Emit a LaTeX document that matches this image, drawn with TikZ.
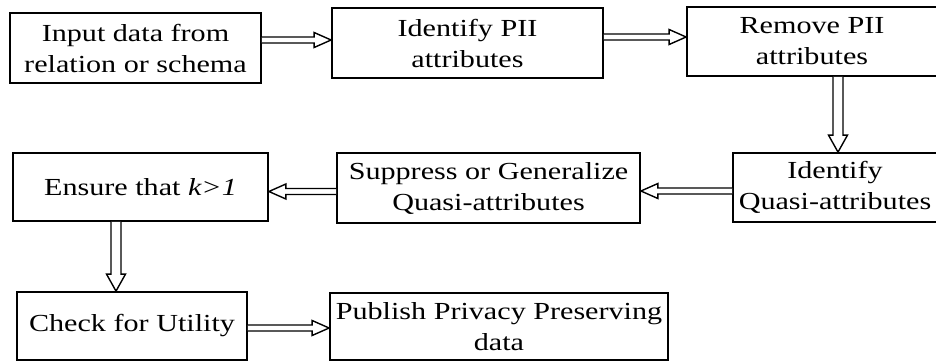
\documentclass[tikz,border=0pt]{standalone}
\usepackage{fontspec}
\setmainfont[FakeStretch=1.23]{Liberation Serif}
\usetikzlibrary{calc}
\newcommand\harr[2]{%
\draw[conn] let \p1=#1, \p2=#2, \n1={sign(\x2-\x1)} in
 (\x1,{\y1+3pt}) -- ({\x2-(\n1)*17pt},{\y1+3pt}) -- ({\x2-(\n1)*17pt},{\y1+7.5pt}) -- (\x2,\y1)
 -- ({\x2-(\n1)*17pt},{\y1-7.5pt}) -- ({\x2-(\n1)*17pt},{\y1-3pt}) -- (\x1,{\y1-3pt});}
\newcommand\varr[2]{%
\draw[conn] let \p1=#1, \p2=#2, \n1={sign(\y2-\y1)} in
 ({\x1+5pt},\y1) -- ({\x1+5pt},{\y2-(\n1)*17pt}) -- ({\x1+9.5pt},{\y2-(\n1)*17pt}) -- (\x1,\y2)
 -- ({\x1-9.5pt},{\y2-(\n1)*17pt}) -- ({\x1-5pt},{\y2-(\n1)*17pt}) -- ({\x1-5pt},\y1);}
\tikzset{
  box/.style={draw, line width=1.8pt, rectangle, inner sep=0pt, align=center,
    font=\fontsize{24.5}{31}\selectfont},
  conn/.style={draw, line width=1.4pt, fill=white, line join=miter}
}
\begin{document}
\begin{tikzpicture}[x=1pt, y=-1pt]
\useasboundingbox (0,0) rectangle (936,362);
\node[box, minimum width=251pt, minimum height=70pt] (b1) at (135.5,48) {Input data from\\relation or schema};
\node[box, minimum width=271pt, minimum height=70pt] (b2) at (467.5,43) {Identify PII\\attributes};
\node[box, minimum width=250pt, minimum height=69pt] (b3) at (812,41.5) {Remove PII\\attributes};
\node[box, minimum width=204pt, minimum height=69pt] (b4) at (835,187.5) {Identify\\Quasi-attributes};
\node[box, minimum width=303pt, minimum height=70pt] (b5) at (488.5,188) {Suppress or Generalize\\Quasi-attributes};
\node[box, minimum width=255pt, minimum height=68pt] (b6) at (140.5,187) {Ensure that \textit{k>1}};
\node[box, minimum width=230pt, minimum height=68pt] (b7) at (132,326) {Check for Utility};
\node[box, minimum width=338pt, minimum height=67pt] (b8) at (499,326.5) {Publish Privacy Preserving\\data};
\coordinate (r1) at (0,40);
\coordinate (r2) at (0,37);
\coordinate (r4) at (0,191);
\coordinate (r5) at (0,191.5);
\coordinate (r7) at (0,328);
\coordinate (c3) at (838,0);
\coordinate (c6) at (116,0);
\harr{(b1.east |- r1)}{(b2.west |- r1)}
\harr{(b2.east |- r2)}{(b3.west |- r2)}
\varr{(c3 |- b3.south)}{(c3 |- b4.north)}
\harr{(b4.west |- r4)}{(b5.east |- r4)}
\harr{(b5.west |- r5)}{(b6.east |- r5)}
\varr{(c6 |- b6.south)}{(c6 |- b7.north)}
\harr{(b7.east |- r7)}{(b8.west |- r7)}
\end{tikzpicture}
\end{document}
